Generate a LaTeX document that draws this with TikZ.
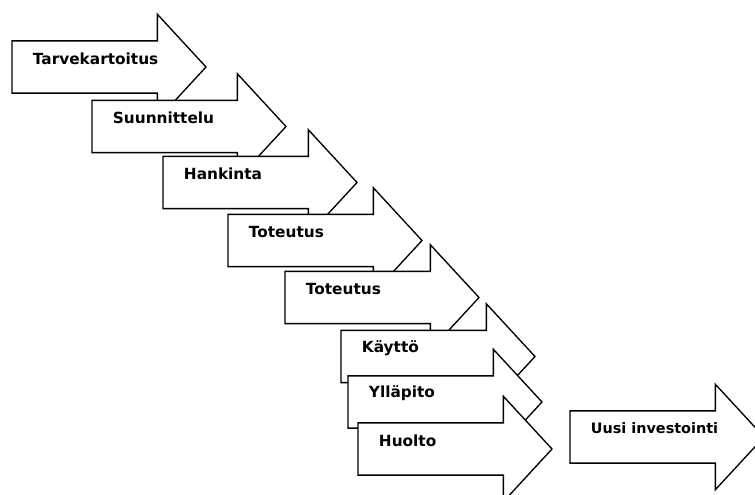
\documentclass[tikz,border=0pt]{standalone}
\usepackage{fontspec}
\setmainfont{DejaVu Sans}
\usetikzlibrary{shapes.arrows,positioning}
\tikzset{
phase/.style = {draw, fill=white, single arrow, line width=1pt, inner xsep=0pt, inner ysep=19.1pt, outer sep=0pt, single arrow head extend=19.9pt, single arrow tip angle=94.6, minimum height=145.5pt, anchor=tail},
phasetext/.style = {inner sep=0pt, font=\fontsize{11.5}{13}\selectfont\bfseries, node distance=15.5pt, yshift=6.4pt}
}
\begin{document}
\begin{tikzpicture}[x=0.75pt, y=-0.75pt]
    \useasboundingbox (0,0) rectangle (755,495);

    \node[phase] (a1) at (12,67) {};
    \node[phasetext, right=of a1.tail] (t1) {Tarvekartoitus};
    \node[phase] (a2) at (92,126.5) {};
    \node[phasetext, right=of a2.tail] (t2) {Suunnittelu};
    \node[phase] (a3) at (163,182.5) {};
    \node[phasetext, right=of a3.tail] (t3) {Hankinta};
    \node[phase] (a4) at (228,240.5) {};
    \node[phasetext, right=of a4.tail] (t4) {Toteutus};
    \node[phase] (a5) at (285,297.5) {};
    \node[phasetext, right=of a5.tail] (t5) {Toteutus};
    \node[phase] (a6) at (341,356.5) {};
    \node[phasetext, right=of a6.tail] (t6) {Käyttö};
    \node[phase] (a7) at (348,402) {};
    \node[phasetext, right=of a7.tail] (t7) {Ylläpito};
    \node[phase] (a8) at (358,449) {};
    \node[phasetext, right=of a8.tail] (t8) {Huolto};

    \node[phase] (a9) at (570,437) {};
    \node[phasetext, right=of a9.tail, font=\fontsize{10.8}{12}\selectfont\bfseries] (t9) {Uusi investointi};
\end{tikzpicture}
\end{document}
